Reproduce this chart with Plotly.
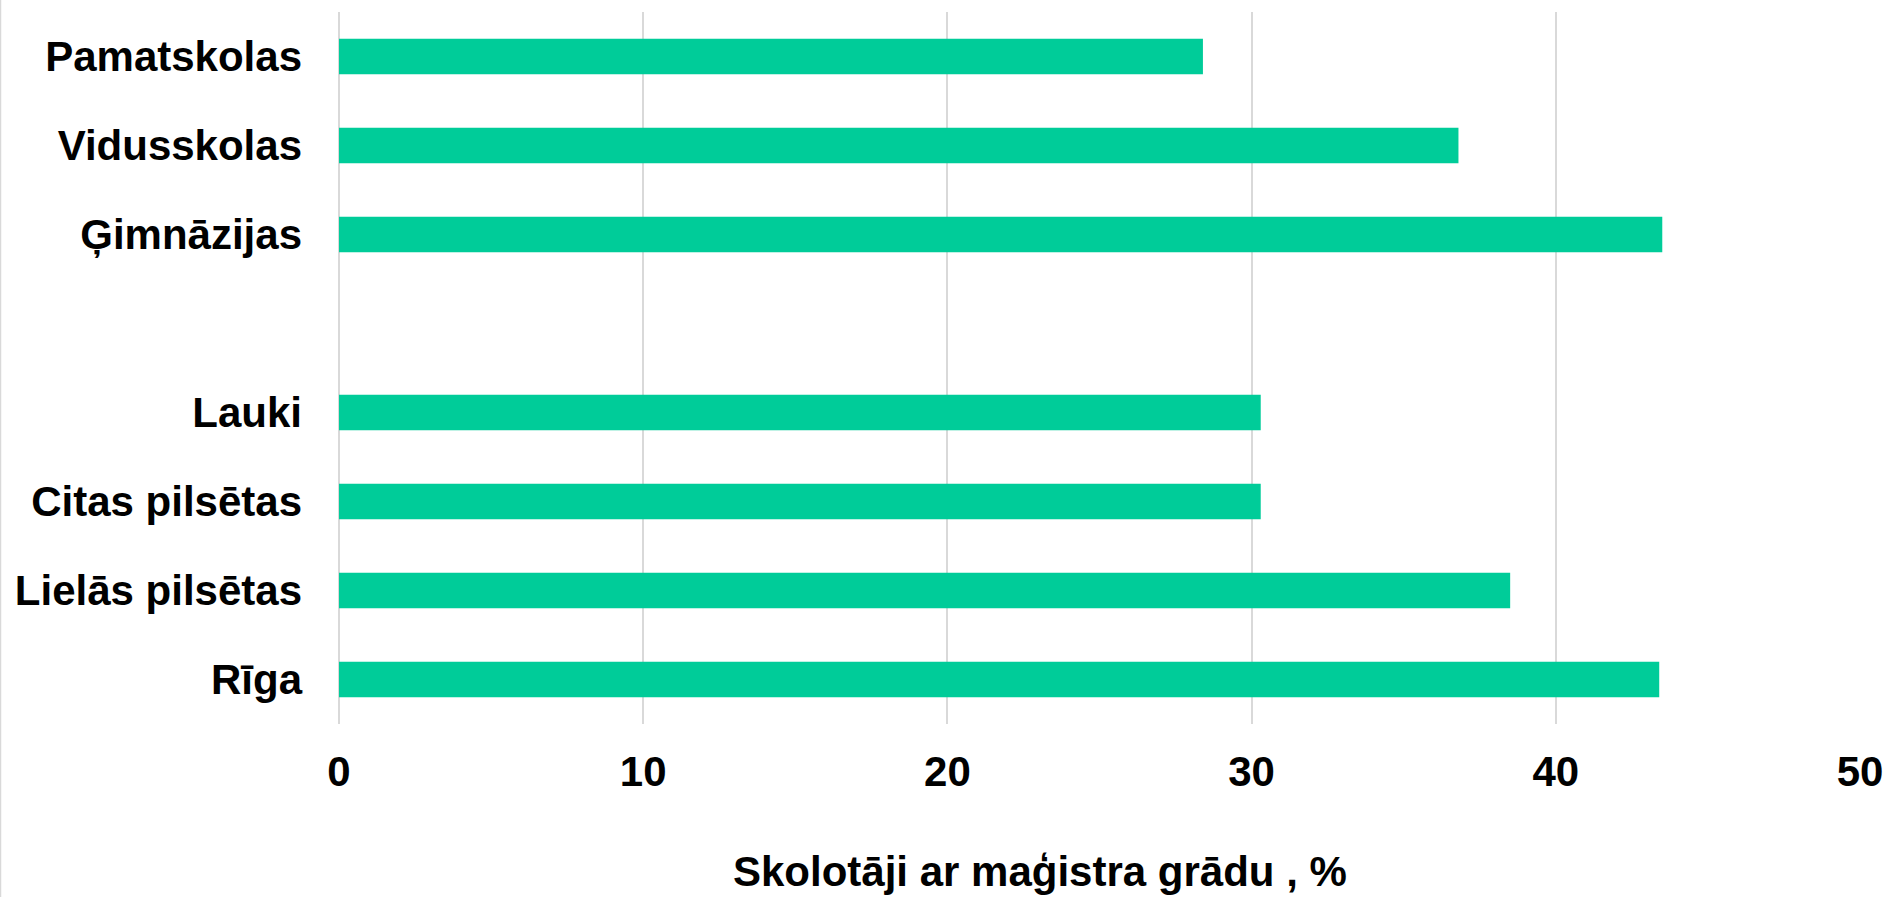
import plotly.graph_objects as go

categories = ["Pamatskolas", "Vidusskolas", "Ģimnāzijas", " ", "Lauki",
              "Citas pilsētas", "Lielās pilsētas", "Rīga"]
values = [28.4, 36.8, 43.5, None, 30.3, 30.3, 38.5, 43.4]
x_ticks = [0, 10, 20, 30, 40, 50]
x_title = "Skolotāji ar maģistra grādu , %"

W, H = 1893, 897
ML, MR, MT, MB = 339, 33, 12, 173
PW = W - ML - MR
PH = H - MT - MB

FONT = "Arial, Liberation Sans, sans-serif"
GRID = "#d9d9d9"

fig = go.Figure(go.Bar(
    x=values, y=categories, orientation="h",
    marker=dict(color="#00cc99", line=dict(width=0)),
    width=0.4, hoverinfo="skip",
))

fig.update_layout(
    width=W, height=H,
    margin=dict(l=ML, r=MR, t=MT, b=MB, pad=0, autoexpand=False),
    plot_bgcolor="white", paper_bgcolor="white",
    showlegend=False,
    bargap=0.6,
    font=dict(family=FONT, color="black"),
    xaxis=dict(
        range=[0, 50], tickvals=x_ticks, ticktext=[str(v) for v in x_ticks],
        showgrid=True, gridcolor=GRID, gridwidth=1.5,
        zeroline=True, zerolinecolor=GRID, zerolinewidth=1.5,
        showline=False, ticks="", ticklabelstandoff=19, automargin=False,
        tickfont=dict(family=FONT, size=42, color="black", weight="bold"),
        fixedrange=True,
    ),
    yaxis=dict(
        type="category", categoryorder="array", categoryarray=categories,
        range=[7.5, -0.5],
        showgrid=False, zeroline=False, showline=False, ticks="",
        ticklabelstandoff=36, automargin=False,
        tickfont=dict(family=FONT, size=42, color="black", weight="bold"),
        fixedrange=True,
    ),
    annotations=[dict(
        text=x_title, xref="paper", yref="paper",
        x=(1040 - ML) / PW, y=(PH + MT - 846) / PH,
        xanchor="center", yanchor="top", showarrow=False,
        font=dict(family=FONT, size=42, color="black", weight="bold"),
    )],
    shapes=[dict(
        type="line", xref="paper", yref="paper",
        x0=(0.5 - ML) / PW, x1=(0.5 - ML) / PW,
        y0=(PH + MT - H) / PH, y1=(PH + MT) / PH,
        line=dict(color=GRID, width=1.5),
    )],
)

fig.write_html(
    "out.html",
    config={"displayModeBar": False},
    post_script="document.body.style.margin='0';document.body.style.overflow='hidden';",
)
